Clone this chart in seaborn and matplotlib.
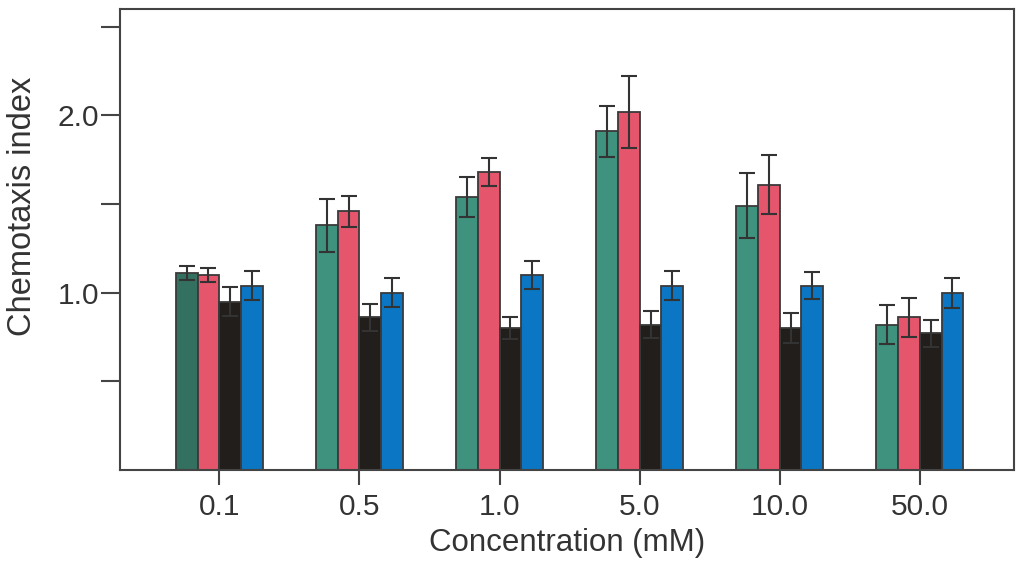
import numpy as np
import pandas as pd
import seaborn as sns
from matplotlib import pyplot as plt

# values
concentrations = ["0.1", "0.5", "1.0", "5.0", "10.0", "50.0"]
series = ["A", "B", "C", "D"]

mean_a = [1.11, 1.38, 1.54, 1.91, 1.49, 0.82]
mean_b = [1.10, 1.46, 1.68, 2.02, 1.61, 0.86]
mean_c = [0.95, 0.86, 0.80, 0.82, 0.80, 0.77]
mean_d = [1.04, 1.00, 1.10, 1.04, 1.04, 1.00]

err_a = [0.038, 0.15, 0.115, 0.146, 0.184, 0.11]
err_b = [0.038, 0.088, 0.08, 0.205, 0.168, 0.11]
err_c = [0.084, 0.075, 0.06, 0.075, 0.084, 0.078]
err_d = [0.084, 0.082, 0.08, 0.08, 0.075, 0.084]

colors = ["#3e927e", "#e5556c", "#221e1b", "#0b77c4"]

means = [mean_a, mean_b, mean_c, mean_d]
errs = [err_a, err_b, err_c, err_d]

df = pd.DataFrame({
    "conc": np.tile(concentrations, len(series)),
    "series": np.repeat(series, len(concentrations)),
    "value": np.concatenate(means),
    "err": np.concatenate(errs),
})

sns.set_style("ticks")
plt.rcParams['font.family'] = ['Liberation Sans', 'DejaVu Sans']

fig, ax = plt.subplots(figsize=(10.24, 5.73), dpi=100)
fig.subplots_adjust(left=0.117, right=0.990, bottom=0.180, top=0.984)

sns.barplot(data=df, x="conc", y="value", hue="series", order=concentrations,
            hue_order=series, palette=colors, saturation=1, width=0.62,
            errorbar=None, edgecolor="#3a3a3a", linewidth=1.3, legend=False, ax=ax)

# error bars: match patches (sorted left to right) with data rows
patches = sorted(ax.patches, key=lambda p: p.get_x())
rows = df.set_index(["conc", "series"])
k = 0
for c in concentrations:
    for s in series:
        p = patches[k]
        xc = p.get_x() + p.get_width() / 2
        r = rows.loc[(c, s)]
        ax.errorbar(xc, r["value"], yerr=r["err"], fmt="none", ecolor="#333333",
                    elinewidth=1.5, capsize=6, capthick=1.5, zorder=5)
        k += 1

# first green bar is a darker shade in the original
patches[0].set_facecolor("#33705f")

ax.set_xlim(-0.71, 5.67)
ax.set_ylim(0, 2.6)
ax.set_yticks([0.5, 1.0, 1.5, 2.0, 2.5])
ax.set_yticklabels(["", "1.0", "", "2.0", ""])

for side in ["left", "right", "top", "bottom"]:
    ax.spines[side].set_visible(True)
    ax.spines[side].set_color("#444444")
    ax.spines[side].set_linewidth(1.5)

ax.tick_params(axis="both", direction="out", width=1.5,
               color="#444444", labelsize=21.5, labelcolor="#333333")
ax.tick_params(axis="y", length=14, pad=1)
ax.tick_params(axis="x", length=11, pad=6)

ax.set_xlabel("Concentration (mM)", fontsize=22.5, color="#333333", labelpad=5)
ax.set_ylabel("Chemotaxis index", fontsize=23.5, color="#333333")
ax.yaxis.set_label_coords(-0.091, 0.573)

fig.savefig("out.png", dpi=100)
